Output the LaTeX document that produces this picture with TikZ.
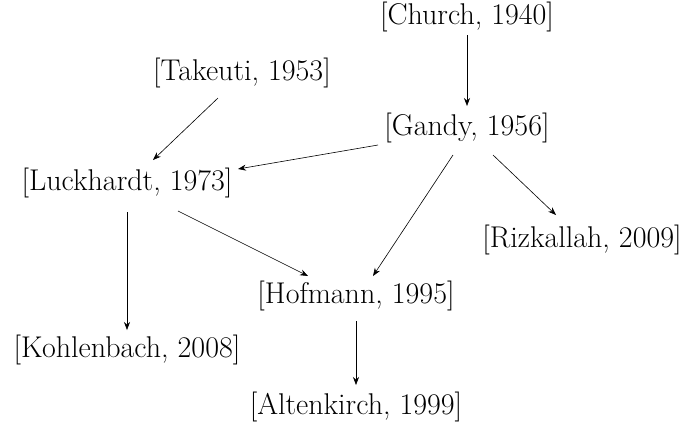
\documentclass[tikz,border=0pt]{standalone}
\usetikzlibrary{calc,arrows.meta}
\begin{document}
\begin{tikzpicture}[x=1pt,y=-1pt,
  ref/.style={inner sep=0pt,font=\fontsize{30}{34}\selectfont},
  edge/.style={-{Stealth[length=8pt,width=6pt]},line width=0.6pt}]
\useasboundingbox (0,0) rectangle (686,432);
\node[ref] (church) at (467,17) {[Church, 1940]};
\node[ref] (takeuti) at (242,73) {[Takeuti, 1953]};
\node[ref] (gandy) at (467,128) {[Gandy, 1956]};
\node[ref] (luck) at (127,183) {[Luckhardt, 1973]};
\node[ref] (rizk) at (582,240) {[Rizkallah, 2009]};
\node[ref] (hof) at (356,296) {[Hofmann, 1995]};
\node[ref] (kohl) at (127,350) {[Kohlenbach, 2008]};
\node[ref] (alt) at (356,407) {[Altenkirch, 1999]};
\draw[edge] ($(church)+(0,18)$) -- ($(gandy)+(0,-22)$);
\draw[edge] ($(takeuti)+(-24,25)$) -- ($(luck)+(26,-23)$);
\draw[edge] ($(gandy)+(-89,17)$) -- ($(luck)+(111,-14)$);
\draw[edge] ($(gandy)+(-14,27)$) -- ($(hof)+(17,-20)$);
\draw[edge] ($(gandy)+(26,27)$) -- ($(rizk)+(-26,-25)$);
\draw[edge] ($(luck)+(51,28)$) -- ($(hof)+(-48,-20)$);
\draw[edge] ($(luck)+(0,29)$) -- ($(kohl)+(0,-20)$);
\draw[edge] ($(hof)+(0,25)$) -- ($(alt)+(0,-22)$);
\end{tikzpicture}
\end{document}
